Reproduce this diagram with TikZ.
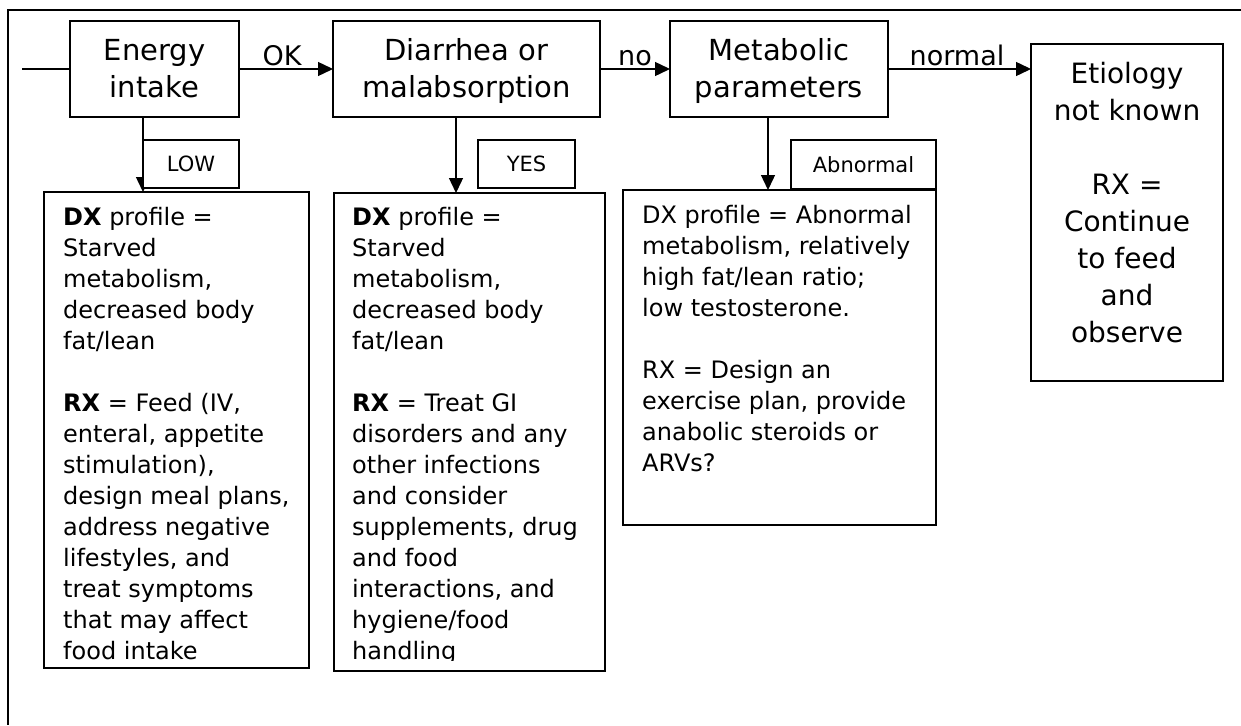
\documentclass[tikz,border=0pt]{standalone}
\usepackage{fontspec}
\setmainfont{DejaVu Sans}
\usetikzlibrary{arrows.meta}
\begin{document}
\begin{tikzpicture}[x=1pt,y=-1pt,
  box/.style={draw, line width=1.5pt, fill=white, inner sep=0pt, outer sep=0pt, anchor=north west},
  arr/.style={line width=1.4pt, -{Triangle[length=15pt,width=14pt]}},
  plain/.style={line width=1.4pt},
  toptxt/.style={anchor=north, align=center, inner sep=0pt, font=\fontsize{29}{37}\selectfont},
  etiotxt/.style={anchor=north, align=center, inner sep=0pt, font=\fontsize{28}{37}\selectfont},
  bodytxt/.style={anchor=north west, align=left, inner sep=0pt, font=\fontsize{24}{31}\selectfont},
  lbltxt/.style={inner sep=0pt, font=\fontsize{21}{25}\selectfont},
  arrlbl/.style={anchor=base, inner sep=0pt, font=\fontsize{27}{32}\selectfont}]
\useasboundingbox (0,0) rectangle (1241,725);
% frame
\draw[line width=2pt] (1241,10) -- (8,10) -- (8,725);

% top row boxes
\node[box, minimum width=169pt, minimum height=96pt] (energy) at (70,21) {};
\node[box, minimum width=267pt, minimum height=96pt] (diar) at (333,21) {};
\node[box, minimum width=218pt, minimum height=96pt] (metab) at (670,21) {};
\node[box, minimum width=192pt, minimum height=337pt] (etio) at (1031,44) {};

\node[toptxt] (energyt) at (154.5,34.1) {\strut Energy\\intake};
\node[toptxt] (diart) at (466.5,34.1) {\strut Diarrhea or\\malabsorption};
\node[toptxt] (metabt) at (779,34.1) {\strut Metabolic\\parameters};
\node[etiotxt] (etiot) at (1127,57.1) {\strut Etiology\\not known\\[37pt]RX =\\Continue\\to feed\\and\\observe};

% lower boxes
\node[box, minimum width=265pt, minimum height=476pt] (b1) at (44,192) {};
\node[box, minimum width=271pt, minimum height=478pt] (b2) at (334,193) {};
\node[box, minimum width=313pt, minimum height=335pt] (b3) at (623,190) {};

\begin{scope}
\clip (44,192) rectangle (309,664);
\node[bodytxt] (b1t) at (63,203.3) {\strut\textbf{DX} profile =\\Starved\\metabolism,\\decreased body\\fat/lean\\[31pt]\textbf{RX} = Feed (IV,\\enteral, appetite\\stimulation),\\design meal plans,\\address negative\\lifestyles, and\\treat symptoms\\that may affect\\food intake};
\end{scope}
\begin{scope}
\clip (334,193) rectangle (605,660);
\node[bodytxt] (b2t) at (352,203.3) {\strut\textbf{DX} profile =\\Starved\\metabolism,\\decreased body\\fat/lean\\[31pt]\textbf{RX} = Treat GI\\disorders and any\\other infections\\and consider\\supplements, drug\\and food\\interactions, and\\hygiene/food\\handling};
\end{scope}
\node[bodytxt] (b3t) at (642,201.3) {\strut DX profile = Abnormal\\metabolism, relatively\\high fat/lean ratio;\\low testosterone.\\[31pt]RX = Design an\\exercise plan, provide\\anabolic steroids or\\ARVs?};

% connectors
\coordinate (in) at (22,0);
\coordinate (yesx) at (456,0);
\coordinate (abnx) at (768,0);
\coordinate (lowx) at (143,0);
\draw[plain] (energy.west -| in) -- (energy.west);
\draw[arr] (energy.east) -- (diar.west);
\draw[arr] (diar.east) -- (metab.west);
\draw[arr] (metab.east) -- (metab.east -| etio.west);
\draw[arr] (energy.south -| lowx) -- (b1.north -| lowx);
\draw[arr] (diar.south -| yesx) -- (b2.north -| yesx);
\draw[arr] (metab.south -| abnx) -- (b3.north -| abnx);

% arrow labels
\node[arrlbl] (ok) at (282,66) {OK};
\node[arrlbl] (no) at (635,66) {no};
\node[arrlbl] (normal) at (957,66) {normal};

% branch label boxes
\node[box, minimum width=96pt, minimum height=48pt] (low) at (143,140) {};
\node[lbltxt] at (low.center) {LOW};
\node[box, minimum width=97pt, minimum height=48pt] (yes) at (478,140) {};
\node[lbltxt] at (yes.center) {YES};
\node[box, minimum width=145pt, minimum height=49pt] (abn) at (791,140) {};
\node[lbltxt] at (abn.center) {Abnormal};
\end{tikzpicture}
\end{document}
